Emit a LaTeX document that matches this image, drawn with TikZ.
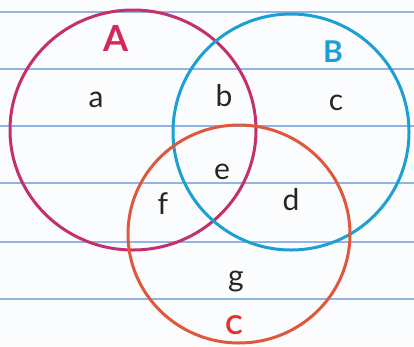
\documentclass[tikz,border=0pt]{standalone}
\usepackage{fontspec}
\setmainfont{Lato}
\definecolor{paper}{HTML}{FBFCFE}
\definecolor{rule}{HTML}{6F9BE0}
\definecolor{setA}{HTML}{C4306C}
\definecolor{setB}{HTML}{1C9FD2}
\definecolor{setC}{HTML}{E0583C}
\definecolor{labA}{HTML}{D4285A}
\definecolor{labC}{HTML}{E8302A}
\begin{document}
\begin{tikzpicture}[x=1pt,y=-1pt,
  ruleline/.style={rule, line width=1.6pt, opacity=0.75},
  setline/.style={line width=3pt},
  elem/.style={font=\fontsize{30}{30}\selectfont, text=black!85, inner sep=0pt},
  setlab/.style={font=\bfseries\fontsize{30}{30}\selectfont, inner sep=0pt}]
\fill[paper] (0,0) rectangle (414,346);
\useasboundingbox (0,0) rectangle (414,346);
\foreach \y in {12,69,126,183,242,299} \draw[ruleline] (0,\y) -- (414,\y);
% sets
\draw[setline, setA] (133,130) ellipse [x radius=123, y radius=120];
\draw[setline, setB] (291,132) ellipse [x radius=118, y radius=118];
\draw[setline, setC] (239,234) ellipse [x radius=111, y radius=109];
% set labels
\node[setlab, labA, font=\bfseries\fontsize{36}{36}\selectfont] (A) at (116,38) {A};
\node[setlab, setB] (B) at (333,52) {B};
\node[setlab, labC, font=\bfseries\fontsize{26}{26}\selectfont] (C) at (234,325) {C};
% elements
\node[elem] (a) at (96,100) {a};
\node[elem] (b) at (224,96) {b};
\node[elem] (c) at (336,103) {c};
\node[elem] (e) at (222,172) {e};
\node[elem] (f) at (163,204) {f};
\node[elem] (d) at (291,200) {d};
\node[elem] (g) at (236,282) {g};
\end{tikzpicture}
\end{document}
